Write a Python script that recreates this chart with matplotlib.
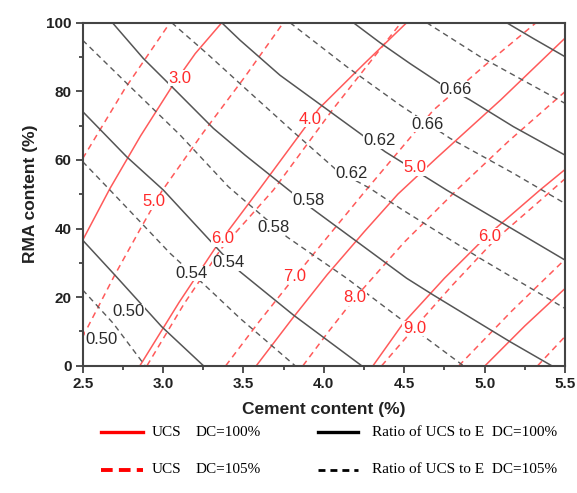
import matplotlib.pyplot as plt
from matplotlib.lines import Line2D
from matplotlib.ticker import MultipleLocator

# contour lines, cement content (%) vs RMA content (%)
# UCS (MPa), DC = 100 %  (solid red): 3.0, 4.0, 5.0, 6.0, 7.0
ucs100_x = [[2.50, 2.670, 2.86, 3.054, 3.20, 3.365],
            [2.856, 3.10, 3.32, 3.60, 3.97, 4.25, 4.515],
            [3.58, 3.80, 4.02, 4.25, 4.46, 4.70, 5.10, 5.50],
            [4.306, 4.494, 4.75, 5.018, 5.344, 5.50],
            [5.003, 5.25, 5.50]]
ucs100_y = [[36.6, 51.7, 67.0, 81.3, 91.0, 100.0],
            [0.0, 18.5, 34.0, 51.5, 75.0, 88.0, 100.0],
            [0.0, 13.5, 26.5, 39.0, 50.0, 60.5, 77.5, 95.5],
            [0.0, 12.4, 25.5, 38.0, 51.2, 57.2],
            [0.0, 11.6, 22.5]]

# UCS (MPa), DC = 105 %  (dashed red): 4.0 ... 11.0
ucs105_x = [[2.50, 2.76, 3.043],
            [2.50, 2.70, 2.867, 2.991, 3.25, 3.510, 3.748],
            [2.90, 3.13, 3.36, 3.686, 4.06, 4.48],
            [3.39, 3.60, 3.821, 4.25, 4.681, 5.00, 5.32],
            [3.87, 4.03, 4.194, 4.50, 4.826, 5.15, 5.50],
            [4.36, 4.563, 4.80, 5.06, 5.42, 5.50],
            [4.84, 5.17, 5.50],
            [5.33, 5.50]]
ucs105_y = [[60.4, 80.6, 100.0],
            [8.4, 26.5, 40.6, 50.8, 68.0, 84.3, 100.0],
            [0.0, 18.0, 34.0, 51.2, 75.0, 100.0],
            [0.0, 13.0, 26.0, 50.5, 74.5, 87.5, 100.0],
            [0.0, 10.0, 19.8, 36.0, 51.2, 65.5, 79.9],
            [0.0, 11.0, 23.5, 36.5, 51.2, 54.5],
            [0.0, 16.0, 31.0],
            [0.0, 8.5]]

# ratio of UCS to E, DC = 100 %  (solid grey): 0.50 ... 0.70
ratio100_x = [[2.50, 2.691, 2.991, 3.251],
              [2.50, 2.774, 3.002, 3.365, 3.479, 3.810, 4.235],
              [2.685, 2.877, 3.064, 3.313, 3.510, 3.924, 4.515, 4.681, 5.158, 5.417],
              [3.365, 3.479, 3.727, 3.997, 4.381, 4.764, 5.500],
              [4.184, 4.349, 4.536, 4.723, 4.909, 5.179, 5.500],
              [5.137, 5.303, 5.500]]
ratio100_y = [[36.6, 26.9, 11.4, 0.0],
              [74.1, 60.9, 51.2, 32.8, 27.4, 14.8, 0.0],
              [100.0, 89.6, 80.9, 69.2, 61.4, 45.9, 25.5, 20.6, 7.0, 0.0],
              [100.0, 94.9, 84.7, 75.5, 62.4, 51.2, 30.8],
              [100.0, 94.2, 88.1, 82.3, 77.5, 69.7, 61.4],
              [100.0, 95.4, 90.1]]

# ratio of UCS to E, DC = 105 %  (dashed grey): 0.50 ... 0.70
ratio105_x = [[2.50, 2.691, 2.888],
              [2.50, 2.670, 2.867, 3.043, 3.282, 3.479, 3.821],
              [2.50, 2.753, 3.105, 3.406, 3.769, 4.142, 4.515, 4.868],
              [3.054, 3.271, 3.510, 3.810, 4.080, 4.287, 4.474, 4.972, 5.500],
              [3.790, 4.142, 4.474, 4.785, 5.179, 5.500],
              [4.640, 4.972, 5.500]]
ratio105_y = [[22.1, 12.3, 0.0],
              [59.5, 51.2, 41.5, 32.8, 22.5, 13.8, 0.0],
              [94.9, 83.3, 67.3, 52.2, 37.6, 25.5, 12.3, 0.0],
              [100.0, 91.1, 80.9, 68.2, 57.0, 51.7, 45.9, 31.3, 16.7],
              [100.0, 87.2, 76.0, 66.3, 56.1, 47.3],
              [100.0, 90.1, 76.5]]

# in-line contour labels: text, cement, RMA
red_labels = ['3.0', '4.0', '5.0', '6.0', '5.0', '6.0', '7.0', '8.0', '9.0']
red_label_x = [3.105, 3.914, 4.567, 5.030, 2.940, 3.371, 3.821, 4.194, 4.563]
red_label_y = [83.8, 71.8, 57.7, 37.8, 47.8, 37.0, 26.0, 19.8, 10.8]
grey_labels = ['0.50', '0.50', '0.54', '0.54', '0.58', '0.58', '0.62', '0.62', '0.66', '0.66']
grey_label_x = [2.784, 2.618, 3.406, 3.174, 3.904, 3.686, 4.346, 4.173, 4.822, 4.646]
grey_label_y = [15.7, 7.7, 30.0, 26.9, 48.3, 40.3, 65.6, 56.1, 80.6, 70.4]

red = '#ff5a5a'
grey = '#555555'

fig = plt.figure(figsize=(5.77, 4.93), dpi=100)
ax = fig.add_axes([0.1433, 0.2582, 0.8359, 0.6957])

for xs, ys in zip(ucs100_x, ucs100_y):
    ax.plot(xs, ys, color=red, lw=1.1)
for xs, ys in zip(ucs105_x, ucs105_y):
    ax.plot(xs, ys, color=red, lw=1.1, ls=(0, (4, 3)))
for xs, ys in zip(ratio100_x, ratio100_y):
    ax.plot(xs, ys, color=grey, lw=1.1)
for xs, ys in zip(ratio105_x, ratio105_y):
    ax.plot(xs, ys, color='#5a5a5a', lw=1.0, ls=(0, (4, 3)))

for t, x, y in zip(red_labels, red_label_x, red_label_y):
    ax.text(x, y, t, color='#ff2a2a', fontsize=12, ha='center', va='center',
            family='Liberation Sans',
            bbox=dict(fc='white', ec='none', pad=0.3))
for t, x, y in zip(grey_labels, grey_label_x, grey_label_y):
    ax.text(x, y, t, color='#2a2a2a', fontsize=12, ha='center', va='center',
            family='Liberation Sans',
            bbox=dict(fc='white', ec='none', pad=0.3))

ax.set_xlim(2.5, 5.5)
ax.set_ylim(0, 100)
ax.xaxis.set_major_locator(MultipleLocator(0.5))
ax.xaxis.set_minor_locator(MultipleLocator(0.25))
ax.yaxis.set_major_locator(MultipleLocator(20))
ax.yaxis.set_minor_locator(MultipleLocator(10))
ax.tick_params(which='both', direction='out', color='#333333', width=1.2,
               labelsize=11, pad=3)
ax.tick_params(which='major', length=5)
ax.tick_params(which='minor', length=3)
for lab in ax.get_xticklabels() + ax.get_yticklabels():
    lab.set_family('Liberation Sans')
    lab.set_fontweight('bold')
    lab.set_color('#222222')
for sp in ax.spines.values():
    sp.set_linewidth(1.5)
    sp.set_color('#444444')

ax.set_xlabel('Cement content (%)', fontsize=12.5, family='Liberation Sans',
              fontweight='bold', color='#222222', labelpad=8)
ax.set_ylabel('RMA content (%)', fontsize=12.5, family='Liberation Sans',
              fontweight='bold', color='#222222', labelpad=6)

# legend drawn by hand below the axes (figure coordinates)
leg_font = dict(family='Liberation Serif', size=11, va='center', ha='left')
rows = [0.1237, 0.0467]
fig.add_artist(Line2D([0.175, 0.248], [rows[0]] * 2, color='red', lw=2.4))
fig.add_artist(Line2D([0.175, 0.248], [rows[1]] * 2, color='red', lw=2.8,
                      ls=(0, (3, 1.6))))
fig.add_artist(Line2D([0.551, 0.620], [rows[0]] * 2, color='black', lw=2.4))
fig.add_artist(Line2D([0.551, 0.620], [rows[1]] * 2, color='black', lw=2.0,
                      ls=(0, (2.5, 1.8))))
fig.text(0.2634, rows[0], 'UCS', **leg_font)
fig.text(0.3397, rows[0], 'DC=100%', **leg_font)
fig.text(0.2634, rows[1], 'UCS', **leg_font)
fig.text(0.3397, rows[1], 'DC=105%', **leg_font)
fig.text(0.6447, rows[0], 'Ratio of UCS to E  DC=100%', **leg_font)
fig.text(0.6447, rows[1], 'Ratio of UCS to E  DC=105%', **leg_font)

fig.savefig('out.png', dpi=100)
